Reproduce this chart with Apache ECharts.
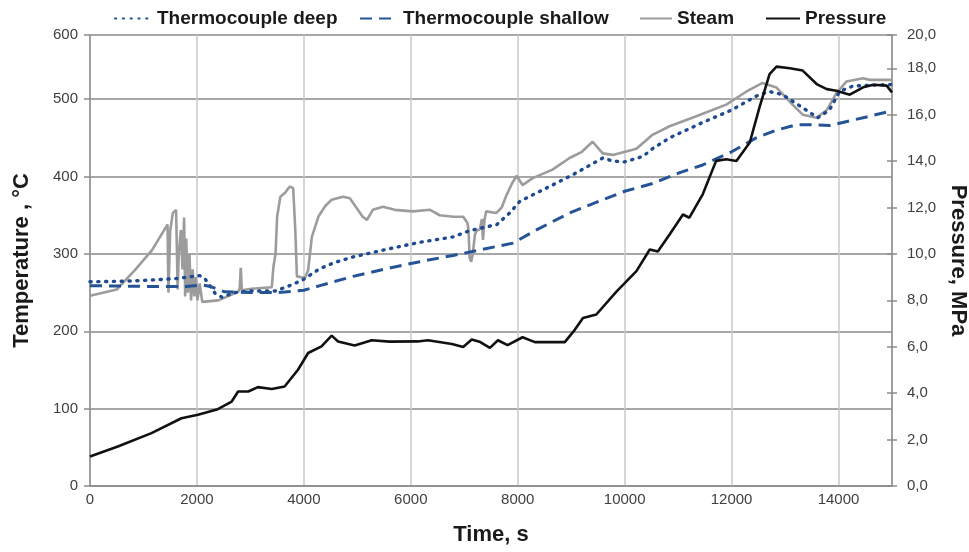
<!DOCTYPE html>
<html><head><meta charset="utf-8">
<script src="https://cdn.jsdelivr.net/npm/echarts@6/dist/echarts.min.js"></script>
<style>html,body{margin:0;padding:0;background:#fff}#c{width:969px;height:552px}</style>
</head><body><div id="c"></div>
<script>
// ---- data (time in s, temperature in °C, pressure in MPa) ----
const deepTime = [0,800,1590,2050,2150,2340,2470,2700,3000,3460,3700,3970,4300,4580,4915,5550,6170,6790,7100,7610,7850,8040,8650,9100,9590,9780,10000,10340,10520,10840,11460,12000,12460,12700,12950,13330,13610,13830,14020,14270,14580,15000];
const deepTemp = [264,265,268,272,268,249,244,250,252,252,258,266,281,289,296,306,315,322,330,338,353,368,389,405,424,420,419,426,436,450,470,486,504,510,506,489,476,486,510,517,518,519];

const shallowTime = [0,1000,1800,2100,2250,2520,3000,3500,4000,4300,4920,5550,6170,6790,7420,7910,8350,8970,9590,10000,10520,11030,11460,12000,12460,12840,13210,13460,13830,14080,14580,15000];
const shallowTemp = [259,258,258,260,258,251,250,250,253,259,271,281,290,298,307,314,331,353,370,381,391,405,415,432,450,460,467,467,466,470,478,485];

const steamTime = [0,500,840,1160,1450,1467,1500,1550,1610,1640,1660,1700,1730,1760,1780,1800,1830,1860,1890,1920,1950,1980,2010,2050,2100,2400,2770,2800,2820,2840,3020,3400,3430,3470,3500,3560,3650,3700,3740,3800,3840,3870,4020,4080,4150,4270,4400,4520,4730,4860,5100,5180,5290,5480,5700,6040,6360,6540,6800,6980,7060,7080,7100,7130,7160,7200,7230,7290,7330,7350,7380,7410,7600,7700,7790,7900,7980,8090,8280,8650,8970,9200,9400,9590,9780,10220,10520,10840,11340,11900,12280,12580,12840,13140,13330,13590,13780,13960,14150,14460,14580,15000];
const steamTemp = [246,254,279,305,338,250,330,353,357,254,300,331,280,347,245,320,250,300,240,280,245,270,240,262,238,240,251,255,282,253,255,257,283,300,348,374,379,384,387,385,330,271,269,279,322,348,362,370,374,372,348,344,357,361,357,355,357,350,348,348,340,331,295,290,301,325,330,332,345,318,345,355,353,360,376,392,401,389,398,409,424,432,445,430,428,436,454,465,478,493,510,521,515,493,480,476,486,508,523,527,525,525];

const pressureTime = [0,520,1150,1710,2020,2390,2650,2770,2960,3140,3400,3640,3890,4080,4330,4520,4640,4950,5270,5600,6130,6320,6770,6980,7140,7300,7480,7630,7810,8090,8320,8880,9070,9220,9470,9850,10220,10470,10620,10840,11090,11210,11460,11710,11900,12090,12340,12520,12710,12840,13090,13330,13590,13780,13960,14210,14460,14650,14900,15000];
const pressureVal = [1.27,1.70,2.28,2.92,3.07,3.31,3.64,4.07,4.07,4.26,4.18,4.29,5.01,5.73,6.02,6.48,6.23,6.05,6.28,6.22,6.23,6.28,6.12,5.99,6.31,6.20,5.95,6.28,6.07,6.41,6.20,6.20,6.74,7.24,7.39,8.39,9.26,10.19,10.10,10.84,11.70,11.56,12.57,14.01,14.08,14.00,14.80,16.30,17.75,18.07,18.00,17.90,17.32,17.10,17.03,16.86,17.18,17.29,17.25,16.96];

const seriesNames = ['Thermocouple deep','Thermocouple shallow','Steam','Pressure'];
const timeTickLabels = ['0','2000','4000','6000','8000','10000','12000','14000'];
const tempTickLabels = ['0','100','200','300','400','500','600'];
const pressureTickLabels = ['0,0','2,0','4,0','6,0','8,0','10,0','12,0','14,0','16,0','18,0','20,0'];

// ---- chart ----
const pts = (ts, vs) => ts.map((t, i) => [t, vs[i]]);
const FONT = '"Liberation Sans", Arial, sans-serif';
const TEMP_TOP = 583;           // visible top of plot in the reference
const PRES_TOP = TEMP_TOP / 30; // same position on the pressure scale
const axisGray = '#8c8c8c';
const labelStyle = { color: '#404040', fontSize: 15, fontFamily: FONT };
const nameStyle = { color: '#1a1a1a', fontSize: 22, fontWeight: 'bold', fontFamily: FONT };
const legendText = { color: '#1a1a1a', fontSize: 19, fontWeight: 'bold', fontFamily: FONT };
const legendBase = { top: 4, itemHeight: 14, textStyle: legendText, itemStyle: { opacity: 0 } };

const chart = echarts.init(document.getElementById('c'), null, { renderer: 'canvas' });
chart.setOption({
  animation: false,
  backgroundColor: '#fff',
  grid: { left: 90, right: 77, top: 35, bottom: 66, containLabel: false, outerBoundsMode: 'none' },
  legend: [
    Object.assign({ data: [seriesNames[0]], left: 109, itemWidth: 37 }, legendBase),
    Object.assign({ data: [seriesNames[1]], left: 354, itemWidth: 38 }, legendBase),
    Object.assign({ data: [seriesNames[2]], left: 634, itemWidth: 32 }, legendBase),
    Object.assign({ data: [seriesNames[3]], left: 760, itemWidth: 34 }, legendBase)
  ],
  xAxis: {
    type: 'value', min: 0, max: 15000, interval: 2000,
    name: 'Time, s', nameLocation: 'middle', nameGap: 38, nameTextStyle: nameStyle,
    axisLine: { show: true, lineStyle: { color: axisGray, width: 1.5 } },
    axisTick: { show: false },
    axisLabel: Object.assign({ margin: 6, showMaxLabel: false,
      formatter: v => timeTickLabels[Math.round(v / 2000)] || '' }, labelStyle),
    splitLine: { show: true, lineStyle: { color: '#c8c8c8', width: 1.5 } }
  },
  yAxis: [
    {
      type: 'value', min: 0, max: TEMP_TOP, interval: 100, position: 'left',
      name: 'Temperature , °C', nameLocation: 'middle', nameGap: 57, nameTextStyle: nameStyle,
      axisLine: { show: true, lineStyle: { color: axisGray, width: 1.5 } },
      axisTick: { show: true, length: 6, lineStyle: { color: axisGray, width: 1.5 } },
      axisLabel: Object.assign({ margin: 12,
        formatter: v => v > 550 ? tempTickLabels[6] : tempTickLabels[Math.round(v / 100)] }, labelStyle),
      splitLine: { show: true, lineStyle: { color: '#8a8a8a', width: 1.5 } }
    },
    {
      type: 'value', min: 0, max: PRES_TOP, interval: 2, position: 'right',
      name: 'Pressure, MPa', nameLocation: 'middle', nameGap: 54, nameRotate: -90, nameTextStyle: nameStyle,
      axisLine: { show: true, lineStyle: { color: axisGray, width: 1.5 } },
      axisTick: { show: true, length: 5, lineStyle: { color: axisGray, width: 1.5 } },
      axisLabel: Object.assign({ margin: 15,
        formatter: v => v > 19 ? pressureTickLabels[10] : pressureTickLabels[Math.round(v / 2)] }, labelStyle),
      splitLine: { show: false }
    },
    {
      type: 'value', min: 0, max: PRES_TOP, interval: 2, position: 'right',
      axisLine: { show: false },
      axisTick: { show: true, inside: true, length: 5, lineStyle: { color: axisGray, width: 1.5 } },
      axisLabel: { show: false },
      splitLine: { show: false }
    }
  ],
  series: [
    {
      name: seriesNames[0], type: 'line', yAxisIndex: 0, symbol: 'none', z: 3,
      data: pts(deepTime, deepTemp),
      lineStyle: { color: '#1d4a90', width: 3.4, type: [1.2, 6.6], cap: 'round' },
      itemStyle: { color: '#1d4a90' }
    },
    {
      name: seriesNames[1], type: 'line', yAxisIndex: 0, symbol: 'none', z: 3,
      data: pts(shallowTime, shallowTemp),
      lineStyle: { color: '#245396', width: 3, type: [12, 7] },
      itemStyle: { color: '#245396' }
    },
    {
      name: seriesNames[2], type: 'line', yAxisIndex: 0, symbol: 'none', z: 2,
      data: pts(steamTime, steamTemp),
      lineStyle: { color: '#9c9c9c', width: 2.6 },
      itemStyle: { color: '#9c9c9c' }
    },
    {
      name: seriesNames[3], type: 'line', yAxisIndex: 1, symbol: 'none', z: 4,
      data: pts(pressureTime, pressureVal),
      lineStyle: { color: '#111111', width: 2.6 },
      itemStyle: { color: '#111111' }
    }
  ]
});
</script>
</body></html>
